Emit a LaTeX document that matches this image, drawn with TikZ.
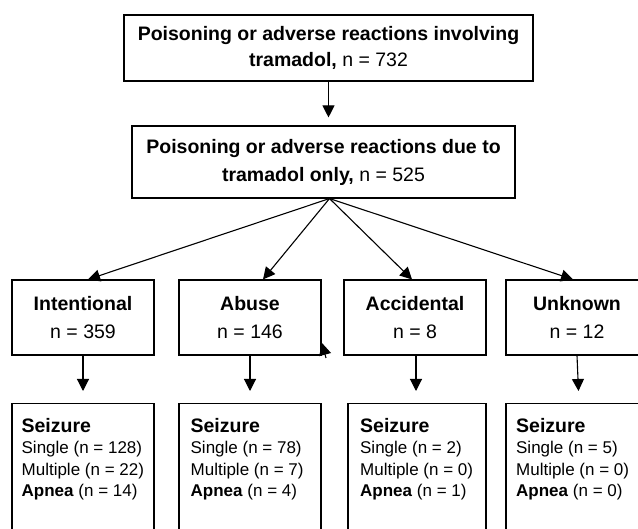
\documentclass[tikz,border=0pt]{standalone}
\usepackage{fontspec}
\setmainfont{Liberation Sans}
\usetikzlibrary{arrows.meta,calc}

\begin{document}
\begin{tikzpicture}[x=1pt,y=-1pt]
 \tikzset{block/.style={rectangle, draw, line width=1.1pt, align=center, inner sep=0pt},
   catbox/.style={block, minimum width=142pt, minimum height=75pt, font=\fontsize{19.5}{28}\selectfont},
   lowbox/.style={rectangle, draw, line width=1.1pt, anchor=north, minimum width=138pt, minimum height=160pt},
   lowtext/.style={anchor=north west, inner sep=0pt, align=left, font=\fontsize{17}{21.5}\selectfont},
   arr/.style={-{Triangle[length=12pt,width=12pt]}, line width=1.1pt}};
  \useasboundingbox (0,0) rectangle (638,529);
  \clip (0,0) rectangle (638,529);
  % top of the chart
  \node[block, minimum width=409pt, minimum height=66pt, font=\fontsize{19.5}{26}\selectfont] (total) at (328.5,48) {\textbf{Poisoning or adverse reactions involving}\\\textbf{tramadol,} n = 732};
  \node[block, minimum width=383pt, minimum height=72pt, font=\fontsize{19.5}{28}\selectfont] (only) at (323.5,162) {\textbf{Poisoning or adverse reactions due to}\\\textbf{tramadol only,} n = 525};
  \draw[arr, shorten >=8pt] (total.south) -- (total.south |- only.north);
  % intent categories
  \node[catbox] (intent) at (83,317.5) {\textbf{Intentional}\\n = 359};
  \node[catbox] (abuse) at (250,317.5) {\textbf{Abuse}\\n = 146};
  \node[catbox] (accid) at (415,317.5) {\textbf{Accidental}\\n = 8};
  \node[catbox] (unknown) at (577,317.5) {\textbf{Unknown}\\n = 12};
  \coordinate (fan) at ([xshift=6pt]only.south);
  \draw[arr] (fan) -- ([xshift=5pt]intent.north);
  \draw[arr] (fan) -- ([xshift=13pt]abuse.north);
  \draw[arr] (fan) -- ([xshift=-3pt]accid.north);
  \draw[arr] (fan) -- ([xshift=-4pt]unknown.north);
  % stray tip at the corner of abuse
  \coordinate (strayA) at (326,358);
  \coordinate (strayB) at (322,343);
  \draw[arr] (strayA) -- (strayB);
  % seizure boxes
  \node[lowbox, minimum width=142pt] (low1) at (83,403) {};
  \node[lowbox, minimum width=142pt] (low2) at (250,403) {};
  \node[lowbox] (low3) at (417,403) {};
  \node[lowbox, minimum width=142pt] (low4) at (577,403) {};
  \draw[arr, shorten >=12pt] (intent.south) -- (intent.south |- low1.north);
  \draw[arr, shorten >=12pt] (abuse.south) -- (abuse.south |- low2.north);
  \draw[arr, shorten >=12pt] ([xshift=1pt]accid.south) -- ([xshift=1pt]accid.south |- low3.north);
  \draw[arr, shorten >=12pt] (unknown.south) -- ([xshift=2pt]low4.north);
  \node[lowtext] (txt1) at ($(low1.north west)+(10,15)$) {{\fontsize{19.5}{21.5}\selectfont\bfseries Seizure}\\Single (n = 128)\\Multiple (n = 22)\\\textbf{Apnea} (n = 14)};
  \node[lowtext] (txt2) at ($(low2.north west)+(12,15)$) {{\fontsize{19.5}{21.5}\selectfont\bfseries Seizure}\\Single (n = 78)\\Multiple (n = 7)\\\textbf{Apnea} (n = 4)};
  \node[lowtext] (txt3) at ($(low3.north west)+(12.5,15)$) {{\fontsize{19.5}{21.5}\selectfont\bfseries Seizure}\\Single (n = 2)\\Multiple (n = 0)\\\textbf{Apnea} (n = 1)};
  \node[lowtext] (txt4) at ($(low4.north west)+(10.5,15)$) {{\fontsize{19.5}{21.5}\selectfont\bfseries Seizure}\\Single (n = 5)\\Multiple (n = 0)\\\textbf{Apnea} (n = 0)};
\end{tikzpicture}
\end{document}
